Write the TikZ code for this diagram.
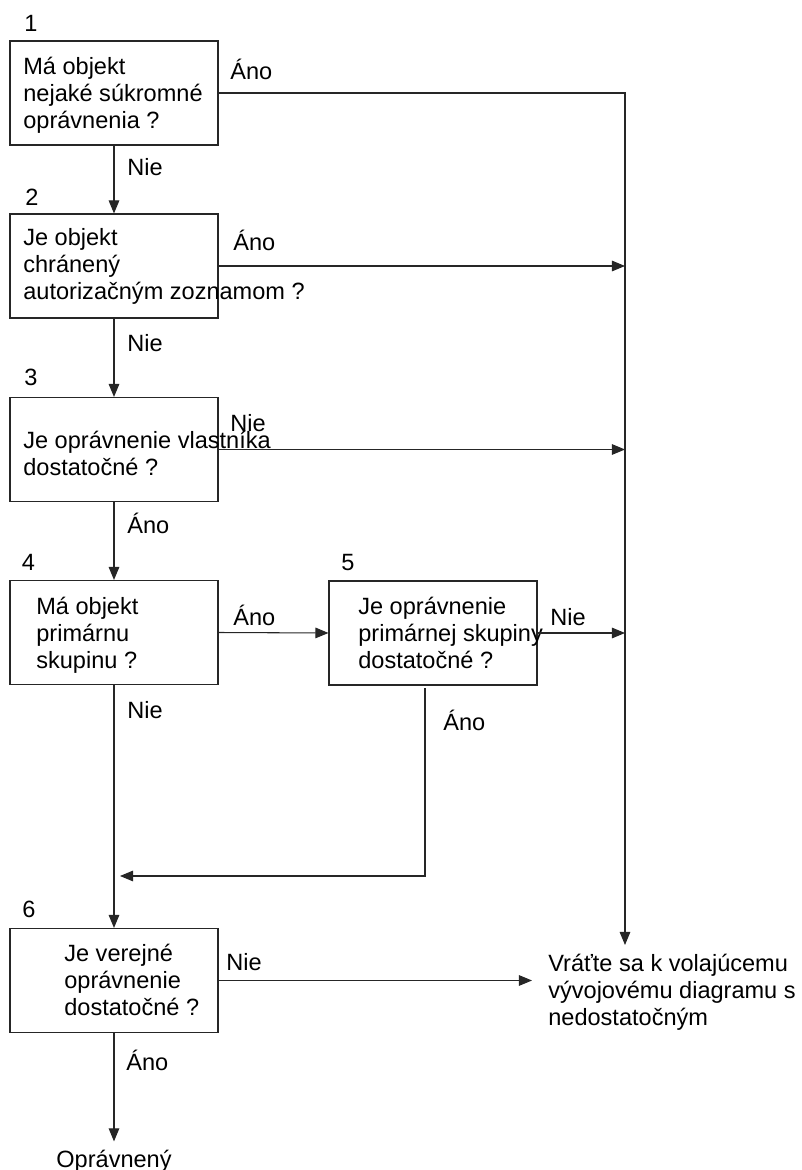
\documentclass[tikz,border=0pt]{standalone}
\usepackage{fontspec}
\setmainfont{Liberation Sans}
\usetikzlibrary{arrows.meta}

\begin{document}
\begin{tikzpicture}[scale=0.2]
        \tikzstyle{every node}+=[inner sep=0pt, font=\fontsize{13.4}{15.4}\selectfont]
        \tikzstyle{box}=[draw=black!85, line width=0.6pt, minimum width=4.16cm, minimum height=2.08cm]
        \tikzstyle{txt}=[anchor=west, align=left]
        \tikzstyle{arr}=[draw=black!85, line width=0.6pt, -{Triangle[length=7.4pt,width=6pt]}]
        \useasboundingbox (0,0) rectangle (80.2,-117);
        % boxes
        \node [box] (q1) at (11.4,-9.3) {};
        \node [box] (q2) at (11.4,-26.6) {};
        \node [box] (q3) at (11.4,-44.95) {};
        \node [box] (q4) at (11.4,-63.25) {};
        \node [box] (q5) at (43.3,-63.3) {};
        \node [box] (q6) at (11.4,-98.05) {};
        \node (k1) at (3.1,-2.3) {1};
        \node (k2) at (3.2,-19.7) {2};
        \node (k3) at (3.1,-37.7) {3};
        \node (k4) at (2.85,-56.2) {4};
        \node (k5) at (34.8,-56.3) {5};
        \node (k6) at (2.9,-90.9) {6};
        \node [txt] (t1) at (2.3,-9.55) {Má objekt\\nejaké súkromné\\oprávnenia ?};
        \node [txt] (t2) at (2.3,-26.65) {Je objekt\\chránený\\autorizačným zoznamom ?};
        \node [txt] (t3) at (2.3,-45.35) {Je oprávnenie vlastníka\\dostatočné ?};
        \node [txt] (t4) at (3.6,-63.5) {Má objekt\\primárnu\\skupinu ?};
        \node [txt] (t5) at (35.8,-63.3) {Je oprávnenie\\primárnej skupiny\\dostatočné ?};
        \node [txt] (t6) at (6.4,-98.0) {Je verejné\\oprávnenie\\dostatočné ?};
        \node [txt, inner xsep=9.1pt] (ret) at (53.2,-99.25) {Vráťte sa k volajúcemu\\vývojovému diagramu s\\nedostatočným};
        \node [anchor=base, inner sep=4.5pt] (ok) at (11.4,-116.7) {Oprávnený};
        % connectors
        \coordinate (r1) at (62.5,-9.3);
        \coordinate (r2) at (62.5,-94.5);
        \coordinate (s5) at (42.5,-68.8);
        \coordinate (j6) at (12.0,-87.6);
        \draw [arr] (q1.east) -- (r1) -- (r2);
        \draw [arr] (q2.east) -- (q2.east -| r1);
        \draw [arr] (q3.east) -- (q3.east -| r1);
        \draw [arr] (q5.east) -- (q5.east -| r1);
        \draw [arr] (q4.east) -- (q5.west);
        \draw [arr] (q6.east) -- (q6.east -| ret.west);
        \draw [arr] (q1) -- (q2);
        \draw [arr] (q2) -- (q3);
        \draw [arr] (q3) -- (q4);
        \draw [arr] (q4) -- (q6);
        \draw [arr] (q6) -- (ok);
        \draw [arr] (s5) |- (j6);
        % labels
        \node [txt] (a1) at (23.0,-6.9) {Áno};
        \node [txt] (n12) at (12.7,-16.7) {Nie};
        \node [txt] (a2) at (23.3,-24.0) {Áno};
        \node [txt] (n23) at (12.7,-34.3) {Nie};
        \node [txt] (n3) at (23.0,-42.3) {Nie};
        \node [txt] (a34) at (12.7,-52.3) {Áno};
        \node [txt] (a45) at (23.3,-61.5) {Áno};
        \node [txt] (n5) at (55.0,-61.7) {Nie};
        \node [txt] (n46) at (12.7,-71.0) {Nie};
        \node [txt] (a5) at (44.3,-72.0) {Áno};
        \node [txt] (n6) at (22.6,-96.2) {Nie};
        \node [txt] (a6) at (12.6,-106.0) {Áno};
\end{tikzpicture}
\end{document}
